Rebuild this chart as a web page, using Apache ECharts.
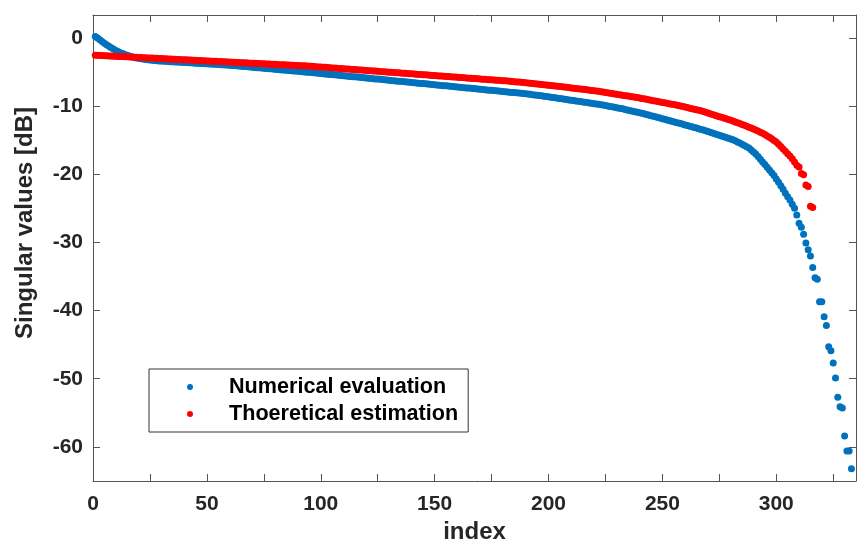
<!DOCTYPE html>
<html>
<head>
<meta charset="utf-8">
<script src="https://cdn.jsdelivr.net/npm/echarts@6/dist/echarts.min.js"></script>
<style>html,body{margin:0;padding:0;background:#fff;}#c{width:857px;height:541px;}</style>
</head>
<body>
<div id="c"></div>
<script>
// Singular values [dB], index starts at 1
const numericalEvaluation = [
0.2,-0.05,-0.3,-0.55,-0.8,-1.02,-1.25,-1.46,-1.66,-1.85,-2.02,-2.18,-2.32,-2.45,-2.57,-2.68,-2.78,-2.87,-2.95,-3.02,-3.08,-3.13,-3.18,-3.22,-3.26,-3.30,-3.33,-3.36,-3.39,-3.42,
-3.44,-3.46,-3.48,-3.50,-3.52,-3.54,-3.56,-3.58,-3.60,-3.62,-3.64,-3.66,-3.68,-3.70,-3.72,-3.74,-3.76,-3.78,-3.80,-3.82,-3.84,-3.86,-3.88,-3.90,-3.92,-3.94,-3.96,-3.98,-4.00,-4.02,
-4.05,-4.08,-4.11,-4.14,-4.17,-4.20,-4.23,-4.26,-4.29,-4.32,-4.35,-4.38,-4.41,-4.44,-4.47,-4.50,-4.53,-4.56,-4.59,-4.62,-4.65,-4.68,-4.71,-4.74,-4.77,-4.80,-4.83,-4.86,-4.89,-4.92,-4.95,-4.98,-5.01,-5.04,
-5.07,-5.11,-5.14,-5.17,-5.21,-5.24,-5.27,-5.30,-5.34,-5.37,-5.40,-5.44,-5.47,-5.50,-5.53,-5.57,-5.60,-5.63,-5.67,-5.70,-5.73,-5.77,-5.80,-5.83,-5.86,-5.90,-5.93,-5.96,-6.00,-6.03,
-6.06,-6.09,-6.13,-6.16,-6.19,-6.23,-6.26,-6.29,-6.33,-6.36,-6.39,-6.42,-6.46,-6.49,-6.52,-6.56,-6.59,-6.62,-6.66,-6.69,-6.72,-6.75,-6.79,-6.82,-6.85,-6.89,-6.92,-6.95,-6.99,-7.02,
-7.05,-7.08,-7.12,-7.15,-7.18,-7.22,-7.25,-7.28,-7.32,-7.35,-7.38,-7.41,-7.45,-7.48,-7.51,-7.55,-7.58,-7.61,-7.65,-7.68,-7.71,-7.74,-7.78,-7.81,-7.84,-7.88,-7.91,-7.94,-7.98,-8.01,
-8.04,-8.07,-8.11,-8.14,
-8.18,-8.22,-8.26,-8.30,-8.34,-8.38,-8.42,-8.46,-8.51,-8.56,-8.61,-8.66,-8.71,-8.76,-8.81,-8.86,-8.91,-8.96,-9.01,-9.06,-9.11,-9.16,-9.21,-9.26,-9.31,-9.36,-9.41,-9.46,-9.51,-9.56,-9.61,-9.66,-9.71,-9.76,-9.81,
-9.87,-9.94,-10.00,-10.07,-10.13,-10.20,-10.26,-10.33,-10.39,-10.46,
-10.54,-10.62,-10.69,-10.77,-10.85,-10.93,-11.01,-11.08,-11.16,-11.24,
-11.33,-11.42,-11.51,-11.60,-11.69,-11.78,-11.87,-11.96,-12.05,-12.14,-12.23,-12.32,-12.41,-12.50,-12.59,
-12.68,-12.78,-12.87,-12.97,-13.06,-13.16,-13.25,-13.35,-13.44,
-13.54,-13.65,-13.75,-13.86,-13.96,-14.07,-14.17,-14.28,-14.39,-14.50,-14.61,-14.72,-14.83,
-14.96,-15.11,-15.27,-15.44,-15.62,-15.80,-15.99,-16.18,
-16.45,-16.75,-17.05,-17.4,-17.8,-18.2,
-18.6,-19.0,-19.4,-19.8,-20.2,-20.7,-21.2,-21.7,-22.2,-22.8,-23.3,-23.8,-24.4,-25.0,-26.0,
-27.2,-27.8,-28.8,-30.1,-31.1,-32.0,-33.7,-35.2,-35.4,-38.7,-38.7,-40.9,-42.2,-45.3,-45.9,-47.7,-49.9,-52.7,-54.1,-54.3,-58.4,-60.6,-60.6,-63.2
];

const theoreticalEstimation = [
-2.56,-2.58,-2.59,-2.61,-2.63,-2.64,-2.66,-2.68,-2.70,-2.71,-2.73,-2.75,-2.76,-2.78,-2.80,-2.81,-2.83,-2.85,-2.87,-2.88,-2.90,-2.92,-2.93,-2.95,-2.97,-2.98,-3.00,-3.02,-3.04,-3.05,
-3.07,-3.09,-3.10,-3.12,-3.14,-3.15,-3.17,-3.19,-3.21,-3.22,-3.24,-3.26,-3.27,-3.29,-3.31,-3.32,-3.34,-3.36,-3.38,-3.39,-3.41,-3.43,-3.44,-3.46,-3.48,-3.49,-3.51,-3.53,-3.55,-3.56,
-3.58,-3.60,-3.61,-3.63,-3.65,-3.66,-3.68,-3.70,-3.72,-3.73,-3.75,-3.77,-3.78,-3.80,-3.82,-3.83,-3.85,-3.87,-3.89,-3.90,-3.92,-3.94,-3.95,-3.97,-3.99,-4.00,-4.02,-4.04,-4.06,-4.07,
-4.09,-4.11,-4.12,-4.14,
-4.17,-4.19,-4.22,-4.24,-4.27,-4.29,-4.32,-4.34,-4.37,-4.39,-4.42,-4.44,-4.47,-4.49,-4.52,-4.54,-4.57,-4.59,-4.62,-4.64,-4.67,-4.69,-4.72,-4.74,-4.77,-4.79,-4.82,-4.84,-4.87,-4.89,
-4.92,-4.94,-4.97,-4.99,-5.02,-5.04,-5.07,-5.09,-5.12,-5.14,-5.17,-5.19,-5.22,-5.24,-5.27,-5.29,-5.32,-5.34,-5.37,-5.39,-5.42,-5.44,-5.47,-5.49,-5.52,-5.54,-5.57,-5.59,-5.62,-5.64,
-5.67,-5.69,-5.72,-5.74,-5.77,-5.79,-5.82,-5.84,-5.87,-5.89,-5.92,-5.94,-5.97,-5.99,-6.02,-6.04,-6.07,-6.09,-6.12,-6.14,-6.17,-6.19,-6.22,-6.24,-6.27,-6.29,
-6.32,-6.35,-6.38,-6.41,-6.44,-6.47,-6.50,-6.53,-6.57,-6.60,-6.64,-6.67,-6.71,-6.74,-6.78,-6.81,-6.85,-6.88,-6.92,-6.95,-6.99,-7.03,-7.07,-7.11,-7.15,-7.19,-7.23,-7.27,-7.31,-7.35,
-7.39,-7.43,-7.47,-7.51,-7.55,-7.59,-7.64,-7.68,-7.73,-7.77,-7.82,-7.86,-7.91,
-7.96,-8.01,-8.07,-8.12,-8.18,-8.23,-8.28,-8.34,-8.39,-8.45,-8.50,-8.55,-8.61,-8.66,-8.72,-8.77,-8.83,
-8.89,-8.96,-9.02,-9.09,-9.15,-9.22,-9.28,-9.35,-9.41,-9.48,-9.54,-9.61,-9.67,-9.74,-9.80,-9.87,-9.93,-10.00,
-10.08,-10.16,-10.24,-10.32,-10.40,-10.48,-10.56,-10.64,-10.72,
-10.83,-10.93,-11.04,-11.14,-11.25,-11.36,-11.46,-11.57,-11.67,-11.78,-11.89,-11.99,-12.10,
-12.22,-12.34,-12.46,-12.58,-12.71,-12.84,-12.97,-13.11,-13.25,-13.39,-13.54,-13.69,-13.85,-14.01,
-14.2,-14.4,-14.6,-14.8,-15.05,
-15.3,-15.6,-15.95,-16.3,-16.65,-17.0,-17.35,-17.75,-18.2,-18.7,-18.95,-19.9,-20.1,-21.6,-21.8,-24.7,-24.9
];

const seriesNames = ['Numerical evaluation', 'Thoeretical estimation'];
const seriesColors = ['#0072BD', '#FF0000'];
const xTickValues = [0,25,50,75,100,125,150,175,200,225,250,275,300,325];
const xLabelValues = [0,50,100,150,200,250,300];
const yTickValues = [0,-10,-20,-30,-40,-50,-60];
const xName = 'index';
const yName = 'Singular values [dB]';

const FONT = "'Liberation Sans', Arial, Helvetica, sans-serif";
const AXIS_COLOR = '#555555';
const TEXT_COLOR = '#262626';

function toPoints(values) {
  return values.map((v, i) => [i + 1, v]);
}

const chart = echarts.init(document.getElementById('c'), null, {renderer: 'canvas'});

const baseX = {
  type: 'value', min: 0, max: 335,
  splitLine: {show: false},
  axisLine: {show: true, onZero: false, lineStyle: {color: AXIS_COLOR, width: 1}},
  axisTick: {show: true, inside: true, length: 7, customValues: xTickValues, lineStyle: {color: AXIS_COLOR}}
};
const baseY = {
  type: 'value', min: -65, max: 3.34,
  splitLine: {show: false},
  axisLine: {show: true, onZero: false, lineStyle: {color: AXIS_COLOR, width: 1}},
  axisTick: {show: true, inside: true, length: 7, customValues: yTickValues, lineStyle: {color: AXIS_COLOR}}
};

chart.setOption({
  animation: false,
  backgroundColor: '#ffffff',
  grid: {left: 93, right: 1, top: 15, bottom: 60, containLabel: false, outerBoundsMode: 'none'},
  xAxis: [
    Object.assign({}, baseX, {
      position: 'bottom',
      name: xName, nameLocation: 'middle', nameGap: 36,
      nameTextStyle: {fontFamily: FONT, fontWeight: 'bold', fontSize: 24, color: TEXT_COLOR},
      axisLabel: {show: true, customValues: xLabelValues, margin: 13, fontFamily: FONT, fontWeight: 'bold', fontSize: 21, color: TEXT_COLOR}
    }),
    Object.assign({}, baseX, {position: 'top', axisLabel: {show: false}})
  ],
  yAxis: [
    Object.assign({}, baseY, {
      position: 'left',
      axisLabel: {show: true, customValues: yTickValues, margin: 10, fontFamily: FONT, fontWeight: 'bold', fontSize: 21, color: TEXT_COLOR}
    }),
    Object.assign({}, baseY, {position: 'right', axisLabel: {show: false}})
  ],
  legend: {
    orient: 'vertical', left: 149, top: 369,
    data: seriesNames,
    icon: 'circle', itemWidth: 68, itemHeight: 6, itemGap: 5,
    padding: [7, 10, 7, 38],
    borderColor: '#333333', borderWidth: 1, backgroundColor: '#ffffff',
    selectedMode: false,
    textStyle: {fontFamily: FONT, fontWeight: 'bold', fontSize: 21.6, color: '#000000', lineHeight: 22}
  },
  graphic: [{
    type: 'text',
    x: 25, y: 223, rotation: Math.PI / 2,
    style: {text: yName, font: "bold 24px 'Liberation Sans', Arial, sans-serif", fill: TEXT_COLOR, align: 'center', verticalAlign: 'middle'}
  }],
  series: [
    {name: seriesNames[0], type: 'scatter', data: toPoints(numericalEvaluation), symbol: 'circle', symbolSize: 7,
     itemStyle: {color: seriesColors[0], opacity: 1}, xAxisIndex: 0, yAxisIndex: 0, silent: true},
    {name: seriesNames[1], type: 'scatter', data: toPoints(theoreticalEstimation), symbol: 'circle', symbolSize: 7,
     itemStyle: {color: seriesColors[1], opacity: 1}, xAxisIndex: 0, yAxisIndex: 0, silent: true}
  ]
});
</script>
</body>
</html>
